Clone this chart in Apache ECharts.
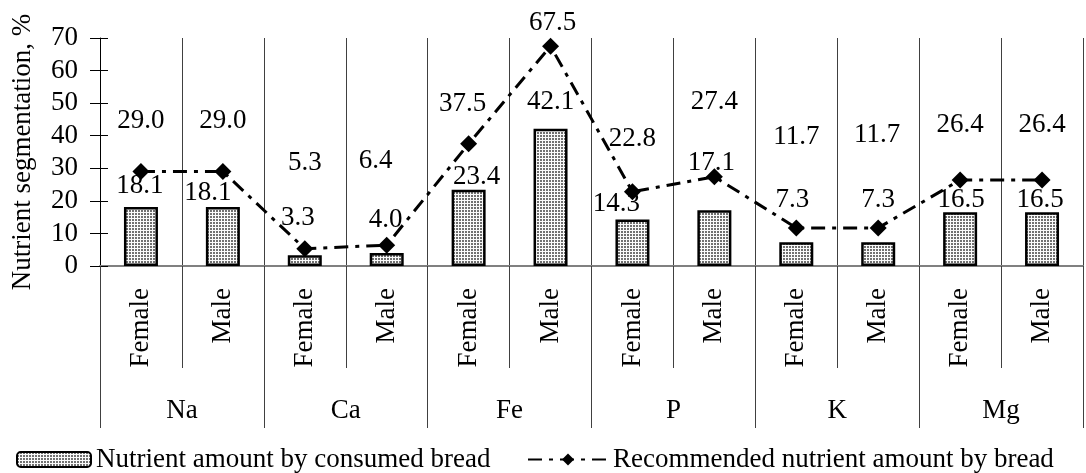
<!DOCTYPE html>
<html>
<head>
<meta charset="utf-8">
<script src="https://cdn.jsdelivr.net/npm/echarts@6/dist/echarts.min.js"></script>
<style>
  html, body { margin: 0; padding: 0; background: #fff; }
  #chart { width: 1086px; height: 473px; }
</style>
</head>
<body>
<div id="chart"></div>
<script>
  const nutrients = ['Na', 'Ca', 'Fe', 'P', 'K', 'Mg']
  const genders = ['Female', 'Male', 'Female', 'Male', 'Female', 'Male',
                   'Female', 'Male', 'Female', 'Male', 'Female', 'Male']
  const consumed = [18.1, 18.1, 3.3, 4.0, 23.4, 42.1, 14.3, 17.1, 7.3, 7.3, 16.5, 16.5]
  const recommended = [29.0, 29.0, 5.3, 6.4, 37.5, 67.5, 22.8, 27.4, 11.7, 11.7, 26.4, 26.4]
  const yMin = 0
  const yMax = 70
  const yStep = 10

  // label placement as in the original (hand-moved labels)
  const barLabelShift = [[-1, -21], [-15, -14], [-7, -37], [-1, -33], [8, -13], [0, -27],
                         [-16, -16], [-3, -47], [-4, -42], [0, -42], [1, -12], [-2, -12]]
  const lineLabelShift = [[0, -51], [0, -51], [0, -86], [-11, -84], [-6, -40], [2, -23],
                          [0, -53], [0, -75], [0, -91], [-1, -93], [0, -55], [0, -55]]

  const font = 'Liberation Serif'
  const fs = 27

  // dotted fill like the excel pattern
  const pat = document.createElement('canvas')
  pat.width = 3
  pat.height = 3
  const pctx = pat.getContext('2d')
  pctx.fillStyle = '#fafafa'
  pctx.fillRect(0, 0, 3, 3)
  pctx.fillStyle = '#707070'
  pctx.fillRect(0, 0, 2, 2)

  const fmt = p => Number(p.value).toFixed(1)

  const barData = consumed.map((v, i) => ({
    value: v,
    label: {
      position: ['50%', barLabelShift[i][1]],
      offset: [barLabelShift[i][0], 0],
      align: 'center',
      verticalAlign: 'middle'
    }
  }))
  const lineData = recommended.map((v, i) => ({
    value: v,
    label: { position: 'inside', offset: lineLabelShift[i] }
  }))

  const chart = echarts.init(document.getElementById('chart'))
  chart.setOption({
    animation: false,
    textStyle: { fontFamily: font },
    grid: { left: 100, right: 3, top: 38, bottom: 207 },
    legend: [
      {
        data: ['Nutrient amount by consumed bread'],
        left: 11, top: 441,
        itemWidth: 74, itemHeight: 15,
        textStyle: { fontFamily: font, fontSize: fs, color: '#000' }
      },
      {
        data: ['Recommended nutrient amount by bread'],
        left: 522, top: 441,
        itemWidth: 80, itemHeight: 15,
        textStyle: { fontFamily: font, fontSize: fs, color: '#000' }
      }
    ],
    xAxis: [
      {
        type: 'category',
        data: genders,
        position: 'bottom',
        axisLine: { lineStyle: { color: '#808080', width: 2 } },
        axisTick: { show: true, interval: 0, length: 102, lineStyle: { color: '#404040', width: 1 } },
        splitLine: { show: true, interval: 0, lineStyle: { color: '#404040', width: 1 } },
        axisLabel: { rotate: 90, margin: 22, interval: 0, fontFamily: font, fontSize: fs, color: '#000' }
      },
      {
        type: 'category',
        data: nutrients,
        position: 'bottom',
        offset: 0,
        axisLine: { show: false },
        axisTick: { show: true, interval: 0, length: 162, lineStyle: { color: '#404040', width: 1 } },
        axisLabel: { margin: 131, interval: 0, fontFamily: font, fontSize: fs, color: '#000' }
      }
    ],
    yAxis: [
      {
        type: 'value',
        min: yMin, max: yMax, interval: yStep,
        name: 'Nutrient segmentation, %',
        nameLocation: 'middle',
        nameGap: 64,
        nameTextStyle: { fontFamily: font, fontSize: fs, color: '#000' },
        axisLine: { show: true, lineStyle: { color: '#000', width: 1 } },
        axisTick: { show: true, length: 10, lineStyle: { color: '#000' } },
        splitLine: { show: false },
        axisLabel: { margin: 22, fontFamily: font, fontSize: fs, color: '#000' }
      },
      {
        type: 'value',
        min: yMin, max: yMax, interval: yStep,
        position: 'left',
        axisLine: { show: false },
        axisTick: { show: true, inside: true, length: 8, lineStyle: { color: '#000' } },
        splitLine: { show: false },
        axisLabel: { show: false }
      }
    ],
    series: [
      {
        name: 'Nutrient amount by consumed bread',
        type: 'bar',
        xAxisIndex: 0,
        barWidth: 34,
        data: barData,
        itemStyle: {
          color: { image: pat, repeat: 'repeat' },
          borderColor: '#000',
          borderWidth: 2.5
        },
        label: {
          show: true,
          formatter: fmt,
          fontFamily: font, fontSize: fs, color: '#000'
        }
      },
      {
        name: 'Recommended nutrient amount by bread',
        type: 'line',
        xAxisIndex: 0,
        data: lineData,
        symbol: 'diamond',
        symbolSize: 17,
        itemStyle: { color: '#000' },
        lineStyle: { color: '#000', width: 3, type: [14, 7, 4, 7] },
        label: {
          show: true,
          formatter: fmt,
          fontFamily: font, fontSize: fs, color: '#000'
        },
        z: 3
      }
    ]
  })
</script>
</body>
</html>
